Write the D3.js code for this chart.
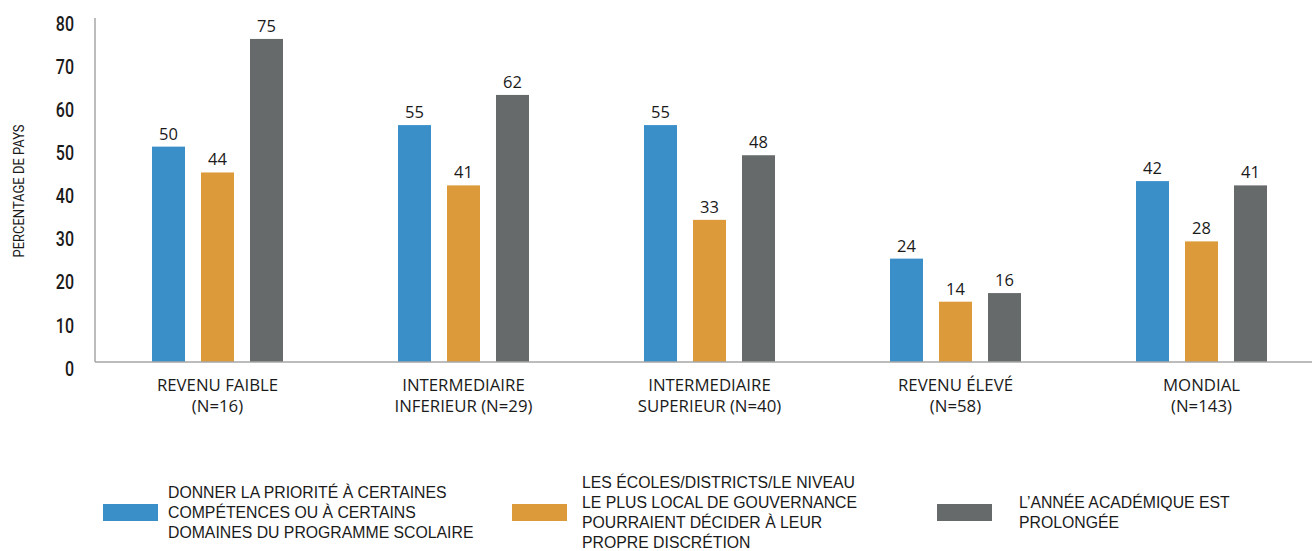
<!doctype html>
<html lang="fr">
<head>
<meta charset="UTF-8">
<title>pourcentage de pays</title>
<style>
  body { margin: 0; background: #fff; }
  .tick-label { font-family: Roboto, "Liberation Sans", sans-serif; font-weight: 500; font-size: 19.5px; fill: #1a1a1a; }
  .axis-title { font-family: Roboto, "Liberation Sans", sans-serif; font-size: 15px; fill: #1a1a1a; }
  .value { font-family: "Open Sans", sans-serif; font-size: 16.5px; fill: #1a1a1a; }
  .cat { font-family: "Open Sans", sans-serif; font-size: 16.8px; fill: #1a1a1a; }
  .legend { font-family: "Liberation Sans", Arial, sans-serif; font-size: 15.8px; fill: #1a1a1a; }
  .axis-line { stroke: #a6a6a6; stroke-width: 1.5px; }
</style>
</head>
<body>
<svg width="1312" height="551"></svg>

<script src="https://d3js.org/d3.v7.min.js"></script>
<script>
  const categories = [
    ['REVENU FAIBLE', '(N=16)'],
    ['INTERMEDIAIRE', 'INFERIEUR (N=29)'],
    ['INTERMEDIAIRE', 'SUPERIEUR (N=40)'],
    ['REVENU ÉLEVÉ', '(N=58)'],
    ['MONDIAL', '(N=143)']
  ]
  const seriesKeys = ['priorite', 'ecoles', 'annee']
  const priorite = [50, 55, 55, 24, 42]
  const ecoles = [44, 41, 33, 14, 28]
  const annee = [75, 62, 48, 16, 41]
  const yTicks = [0, 10, 20, 30, 40, 50, 60, 70, 80]
  const legendLabels = [
    ['DONNER LA PRIORITÉ À CERTAINES', 'COMPÉTENCES OU À CERTAINS', 'DOMAINES DU PROGRAMME SCOLAIRE'],
    ['LES ÉCOLES/DISTRICTS/LE NIVEAU', 'LE PLUS LOCAL DE GOUVERNANCE', 'POURRAIENT DÉCIDER À LEUR', 'PROPRE DISCRÉTION'],
    ['L’ANNÉE ACADÉMIQUE EST', 'PROLONGÉE']
  ]
  const colors = ['#3a8fc9', '#dc9a3a', '#666a6a']

  const values = { priorite, ecoles, annee }
  const rows = categories.map((c, i) => ({ i, vals: seriesKeys.map(k => values[k][i]) }))

  const svg = d3.select('svg')
  const baseY = 362, topY = 17.4, axisX = 95

  const y = d3.scaleLinear().domain([0, 80]).range([baseY, topY])
  const x0 = d3.scaleBand().domain(d3.range(categories.length)).range([94.5, 1324.5])
  const x1 = d3.scaleBand().domain(d3.range(3)).range([0, 131]).paddingInner(16 / 49)
  const inset = (x0.bandwidth() - 131) / 2

  // bars
  const groups = svg.append('g').selectAll('g')
    .data(rows)
    .enter().append('g')
    .attr('transform', d => `translate(${x0(d.i) + inset},0)`)

  groups.selectAll('rect')
    .data(d => d.vals)
    .enter().append('rect')
    .attr('x', (v, j) => x1(j))
    .attr('y', v => y(v))
    .attr('width', x1.bandwidth())
    .attr('height', v => baseY - y(v))
    .attr('fill', (v, j) => colors[j])

  groups.selectAll('text')
    .data(d => d.vals)
    .enter().append('text')
    .attr('class', 'value')
    .attr('x', (v, j) => x1(j) + x1.bandwidth() / 2)
    .attr('y', v => y(v) - 7)
    .attr('text-anchor', 'middle')
    .text(v => v)

  // axes
  svg.append('line').attr('class', 'axis-line')
    .attr('x1', axisX).attr('x2', axisX).attr('y1', 18).attr('y2', baseY)
  svg.append('line').attr('class', 'axis-line')
    .attr('x1', axisX).attr('x2', 1312).attr('y1', baseY).attr('y2', baseY)

  // condensed look: squeeze the glyphs horizontally
  svg.append('g').selectAll('text')
    .data(yTicks)
    .enter().append('text')
    .attr('class', 'tick-label')
    .attr('transform', d => `translate(74,${y(d) + 13.6}) scale(0.82,1)`)
    .attr('text-anchor', 'end')
    .text(d => d)

  svg.append('text')
    .attr('class', 'axis-title')
    .attr('transform', 'translate(24,191) rotate(-90)')
    .attr('text-anchor', 'middle')
    .attr('textLength', 133)
    .attr('lengthAdjust', 'spacingAndGlyphs')
    .text('PERCENTAGE DE PAYS')

  // category labels
  const cat = svg.append('g').selectAll('text')
    .data(categories)
    .enter().append('text')
    .attr('class', 'cat')
    .attr('text-anchor', 'middle')
    .attr('x', (d, i) => x0(i) + x0.bandwidth() / 2)
  cat.selectAll('tspan')
    .data(d => d)
    .enter().append('tspan')
    .attr('x', function () { return this.parentNode.getAttribute('x') })
    .attr('y', (d, k) => 391 + k * 21)
    .text(d => d)

  // legend
  const legendX = [103, 512, 937]
  const legendTextX = [168, 582, 1019]
  const legend = svg.append('g').selectAll('g')
    .data(legendLabels)
    .enter().append('g')

  legend.append('rect')
    .attr('x', (d, i) => legendX[i]).attr('y', 504)
    .attr('width', 55).attr('height', 17)
    .attr('fill', (d, i) => colors[i])

  legend.append('text')
    .attr('class', 'legend')
    .selectAll('tspan')
    .data((d, i) => d.map((t, k) => ({ t, k, n: d.length, i })))
    .enter().append('tspan')
    .attr('x', d => legendTextX[d.i])
    .attr('y', d => 512 + (d.k - (d.n - 1) / 2) * 20 + 5.5)
    .text(d => d.t)
</script>
</body>
</html>
